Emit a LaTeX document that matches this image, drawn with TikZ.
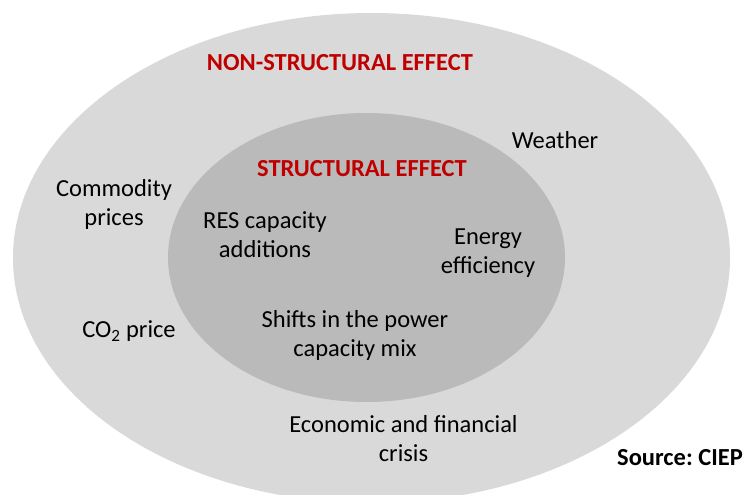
\documentclass[tikz,border=0pt]{standalone}
\usepackage{fontspec}
\setmainfont{Carlito}
\frenchspacing
\definecolor{outerg}{RGB}{217,217,217}
\definecolor{innerg}{RGB}{186,186,186}
\definecolor{effred}{RGB}{192,0,0}
\begin{document}
\begin{tikzpicture}[x=1pt,y=-1pt,
  lbl/.style={inner sep=0pt,align=center,font=\fontsize{24.5}{29}\selectfont},
  ttl/.style={inner sep=0pt,align=center,text=effred,font=\fontsize{24.5}{29}\selectfont\bfseries}]
\useasboundingbox (0,0) rectangle (747,495);
\begin{scope}
\clip (0,0) rectangle (747,495);
\fill[outerg] (371.5,258) ellipse [x radius=358.5pt, y radius=245pt];
\fill[innerg] (366.5,257.5) ellipse [x radius=198.5pt, y radius=144.5pt];
\end{scope}
\node[ttl] (nse) at (340,63) {NON-STRUCTURAL EFFECT};
\node[ttl] (se) at (362,169) {STRUCTURAL EFFECT};
\node[lbl] (wea) at (555,140) {Weather};
\node[lbl] (com) at (114,204.5) {Commodity\\prices};
\node[lbl] (res) at (265,234.5) {RES capacity\\additions};
\node[lbl] (ene) at (488,253.5) {Energy\\efficiency};
\node[lbl] (co2) at (129,331) {CO\textsubscript{2} price};
\node[lbl] (shi) at (355,335.5) {Shifts in the power\\capacity mix};
\node[lbl] (eco) at (403.5,438.5) {Economic and financial\\crisis};
\node[lbl,font=\fontsize{24.5}{29}\selectfont\bfseries,anchor=east] (src) at (743,458) {Source: CIEP};
\end{tikzpicture}
\end{document}
